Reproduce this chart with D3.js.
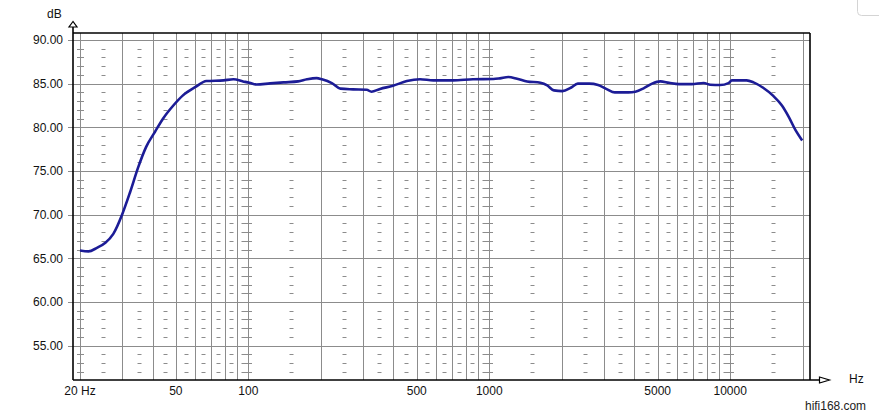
<!DOCTYPE html>
<html>
<head>
<meta charset="utf-8">
<script src="https://cdn.jsdelivr.net/npm/d3@7"></script>
<style>
  html, body { margin: 0; padding: 0; background: #fff; }
  svg { display: block; }
  text { font-family: "Liberation Sans", Arial, sans-serif; }
</style>
</head>
<body>
<svg id="chart" width="879" height="420"></svg>
<script>
// ---- data ----
const freqs = [20, 21.7, 23.5, 25.4, 27.5, 29.9, 32.3, 34.9, 37.6, 40.9, 44.2, 48.8, 53.5, 60.1, 67, 78.9, 86.7, 95, 101,
  108, 123, 140, 161, 175, 192, 202, 222, 241, 272, 310, 324, 352, 398, 455, 516, 586, 708, 856, 1040,
  1107, 1200, 1304, 1436, 1630, 1740, 1855, 2010, 2180, 2330, 2600, 2830, 3070, 3320, 3780, 4040, 4370,
  4740, 5130, 5570, 6130, 6930, 7760, 8270, 9080, 9840, 10160, 11700, 12500, 13700, 15100, 16400, 17500, 18700, 19900];
const levels = [65.9, 65.8, 66.2, 66.75, 67.8, 70.0, 72.6, 75.45, 77.74, 79.46, 80.99, 82.5, 83.66, 84.6, 85.3, 85.38, 85.5, 85.26, 85.1,
  84.9, 85.03, 85.15, 85.26, 85.5, 85.64, 85.5, 85.07, 84.43, 84.35, 84.3, 84.08, 84.4, 84.75, 85.3, 85.5, 85.38, 85.38, 85.5, 85.53,
  85.61, 85.76, 85.57, 85.26, 85.1, 84.8, 84.23, 84.15, 84.53, 85.0, 85.0, 84.84, 84.38, 84.0, 84.0, 84.08, 84.46,
  85.0, 85.26, 85.1, 84.95, 84.95, 85.07, 84.88, 84.84, 85.07, 85.38, 85.38, 85.15, 84.53, 83.6, 82.5, 81.2, 79.65, 78.5];

const yTicks = [55, 60, 65, 70, 75, 80, 85, 90];
const yMinor = [52, 53, 54, 56, 57, 58, 59, 61, 62, 63, 64, 66, 67, 68, 69, 71, 72, 73, 74, 76, 77, 78, 79, 81, 82, 83, 84, 86, 87, 88, 89];
const xGrid = [20, 30, 40, 50, 60, 70, 80, 90, 100, 200, 300, 400, 500, 600, 700, 800, 900,
  1000, 2000, 3000, 4000, 5000, 6000, 7000, 8000, 9000, 10000, 20000];
const xDecades = [20, 100, 1000, 10000];
const xHalf = [25, 35, 45, 55, 65, 75, 85, 95, 150, 250, 350, 450, 550, 650, 750, 850, 950,
  1500, 2500, 3500, 4500, 5500, 6500, 7500, 8500, 9500, 15000];
const xLabels = [[20, "20 Hz"], [50, "50"], [100, "100"], [500, "500"], [1000, "1000"], [5000, "5000"], [10000, "10000"]];

// ---- layout ----
const L = 73, R = 810, T = 33, B = 380;
const x = d3.scaleLog().domain([20, 20000]).range([80, 802.7]);
const y = d3.scaleLinear().domain([55, 90]).range([345.7, 40]);

const svg = d3.select("#chart");
const grey = "#8c8c8c";

// top-right UI remnant
svg.append("rect").attr("x", 857.5).attr("y", -10).attr("width", 40).attr("height", 25.5)
  .attr("rx", 4).attr("fill", "#fff").attr("stroke", "#d4d4d4");

// vertical grid
svg.append("g").selectAll("line").data(xGrid).join("line")
  .attr("x1", d => Math.round(x(d)) + 0.5).attr("x2", d => Math.round(x(d)) + 0.5)
  .attr("y1", T).attr("y2", B).attr("stroke", grey).attr("stroke-width", 1);

// horizontal grid (with left ticks)
svg.append("g").selectAll("line").data(yTicks).join("line")
  .attr("x1", L - 5).attr("x2", R)
  .attr("y1", d => Math.round(y(d)) + 0.5).attr("y2", d => Math.round(y(d)) + 0.5)
  .attr("stroke", grey).attr("stroke-width", 1);

// minor dashes
const dashes = [];
xHalf.forEach(f => yMinor.forEach(v => dashes.push({f, v, w: 4})));
xDecades.forEach(f => yMinor.forEach(v => dashes.push({f, v, w: 7})));
svg.append("g").selectAll("line").data(dashes).join("line")
  .attr("x1", d => Math.round(x(d.f)) + 0.5 - d.w / 2).attr("x2", d => Math.round(x(d.f)) + 0.5 + d.w / 2)
  .attr("y1", d => Math.round(y(d.v)) + 0.5).attr("y2", d => Math.round(y(d.v)) + 0.5)
  .attr("stroke", grey).attr("stroke-width", 1);

// frame
svg.append("line").attr("x1", L).attr("x2", R).attr("y1", T).attr("y2", T).attr("stroke", "#000").attr("stroke-width", 1.6);
svg.append("line").attr("x1", R).attr("x2", R).attr("y1", T).attr("y2", B).attr("stroke", "#000").attr("stroke-width", 1.6);
// y axis line with arrow
svg.append("line").attr("x1", L).attr("x2", L).attr("y1", 24).attr("y2", B).attr("stroke", "#000").attr("stroke-width", 1.6);
svg.append("path").attr("d", `M${L},21.5 L${L - 4},27 L${L + 4},27 Z`).attr("fill", "#fff").attr("stroke", "#000").attr("stroke-width", 1.2);
// x axis line with arrow
svg.append("line").attr("x1", L).attr("x2", 826).attr("y1", B).attr("y2", B).attr("stroke", "#000").attr("stroke-width", 1.6);
svg.append("path").attr("d", `M819.5,${B - 3} L829.5,${B} L819.5,${B + 3} Z`).attr("fill", "#fff").attr("stroke", "#000").attr("stroke-width", 1.2);

// curve
const line = d3.line().x(d => x(d[0])).y(d => y(d[1])).curve(d3.curveMonotoneX);
svg.append("path").datum(freqs.map((f, i) => [f, levels[i]]))
  .attr("d", line).attr("fill", "none").attr("stroke", "#1c1c96").attr("stroke-width", 2.6)
  .attr("stroke-linejoin", "round");

// y labels
svg.append("g").selectAll("text").data(yTicks).join("text")
  .attr("x", 63).attr("y", d => y(d) + 4.3).attr("text-anchor", "end")
  .attr("font-size", 12).attr("fill", "#111").text(d => d.toFixed(2));
svg.append("text").attr("x", 47).attr("y", 18).attr("font-size", 12).attr("fill", "#111").text("dB");

// x labels
svg.append("g").selectAll("text").data(xLabels).join("text")
  .attr("x", d => x(d[0])).attr("y", 395).attr("text-anchor", "middle")
  .attr("font-size", 12).attr("fill", "#111").text(d => d[1]);
svg.append("text").attr("x", 849).attr("y", 383).attr("font-size", 12).attr("fill", "#111").text("Hz");

// watermark
svg.append("text").attr("x", 805).attr("y", 410).attr("font-size", 13.5).attr("fill", "#222")
  .attr("textLength", 61).attr("lengthAdjust", "spacingAndGlyphs").text("hifi168.com");
</script>
</body>
</html>
